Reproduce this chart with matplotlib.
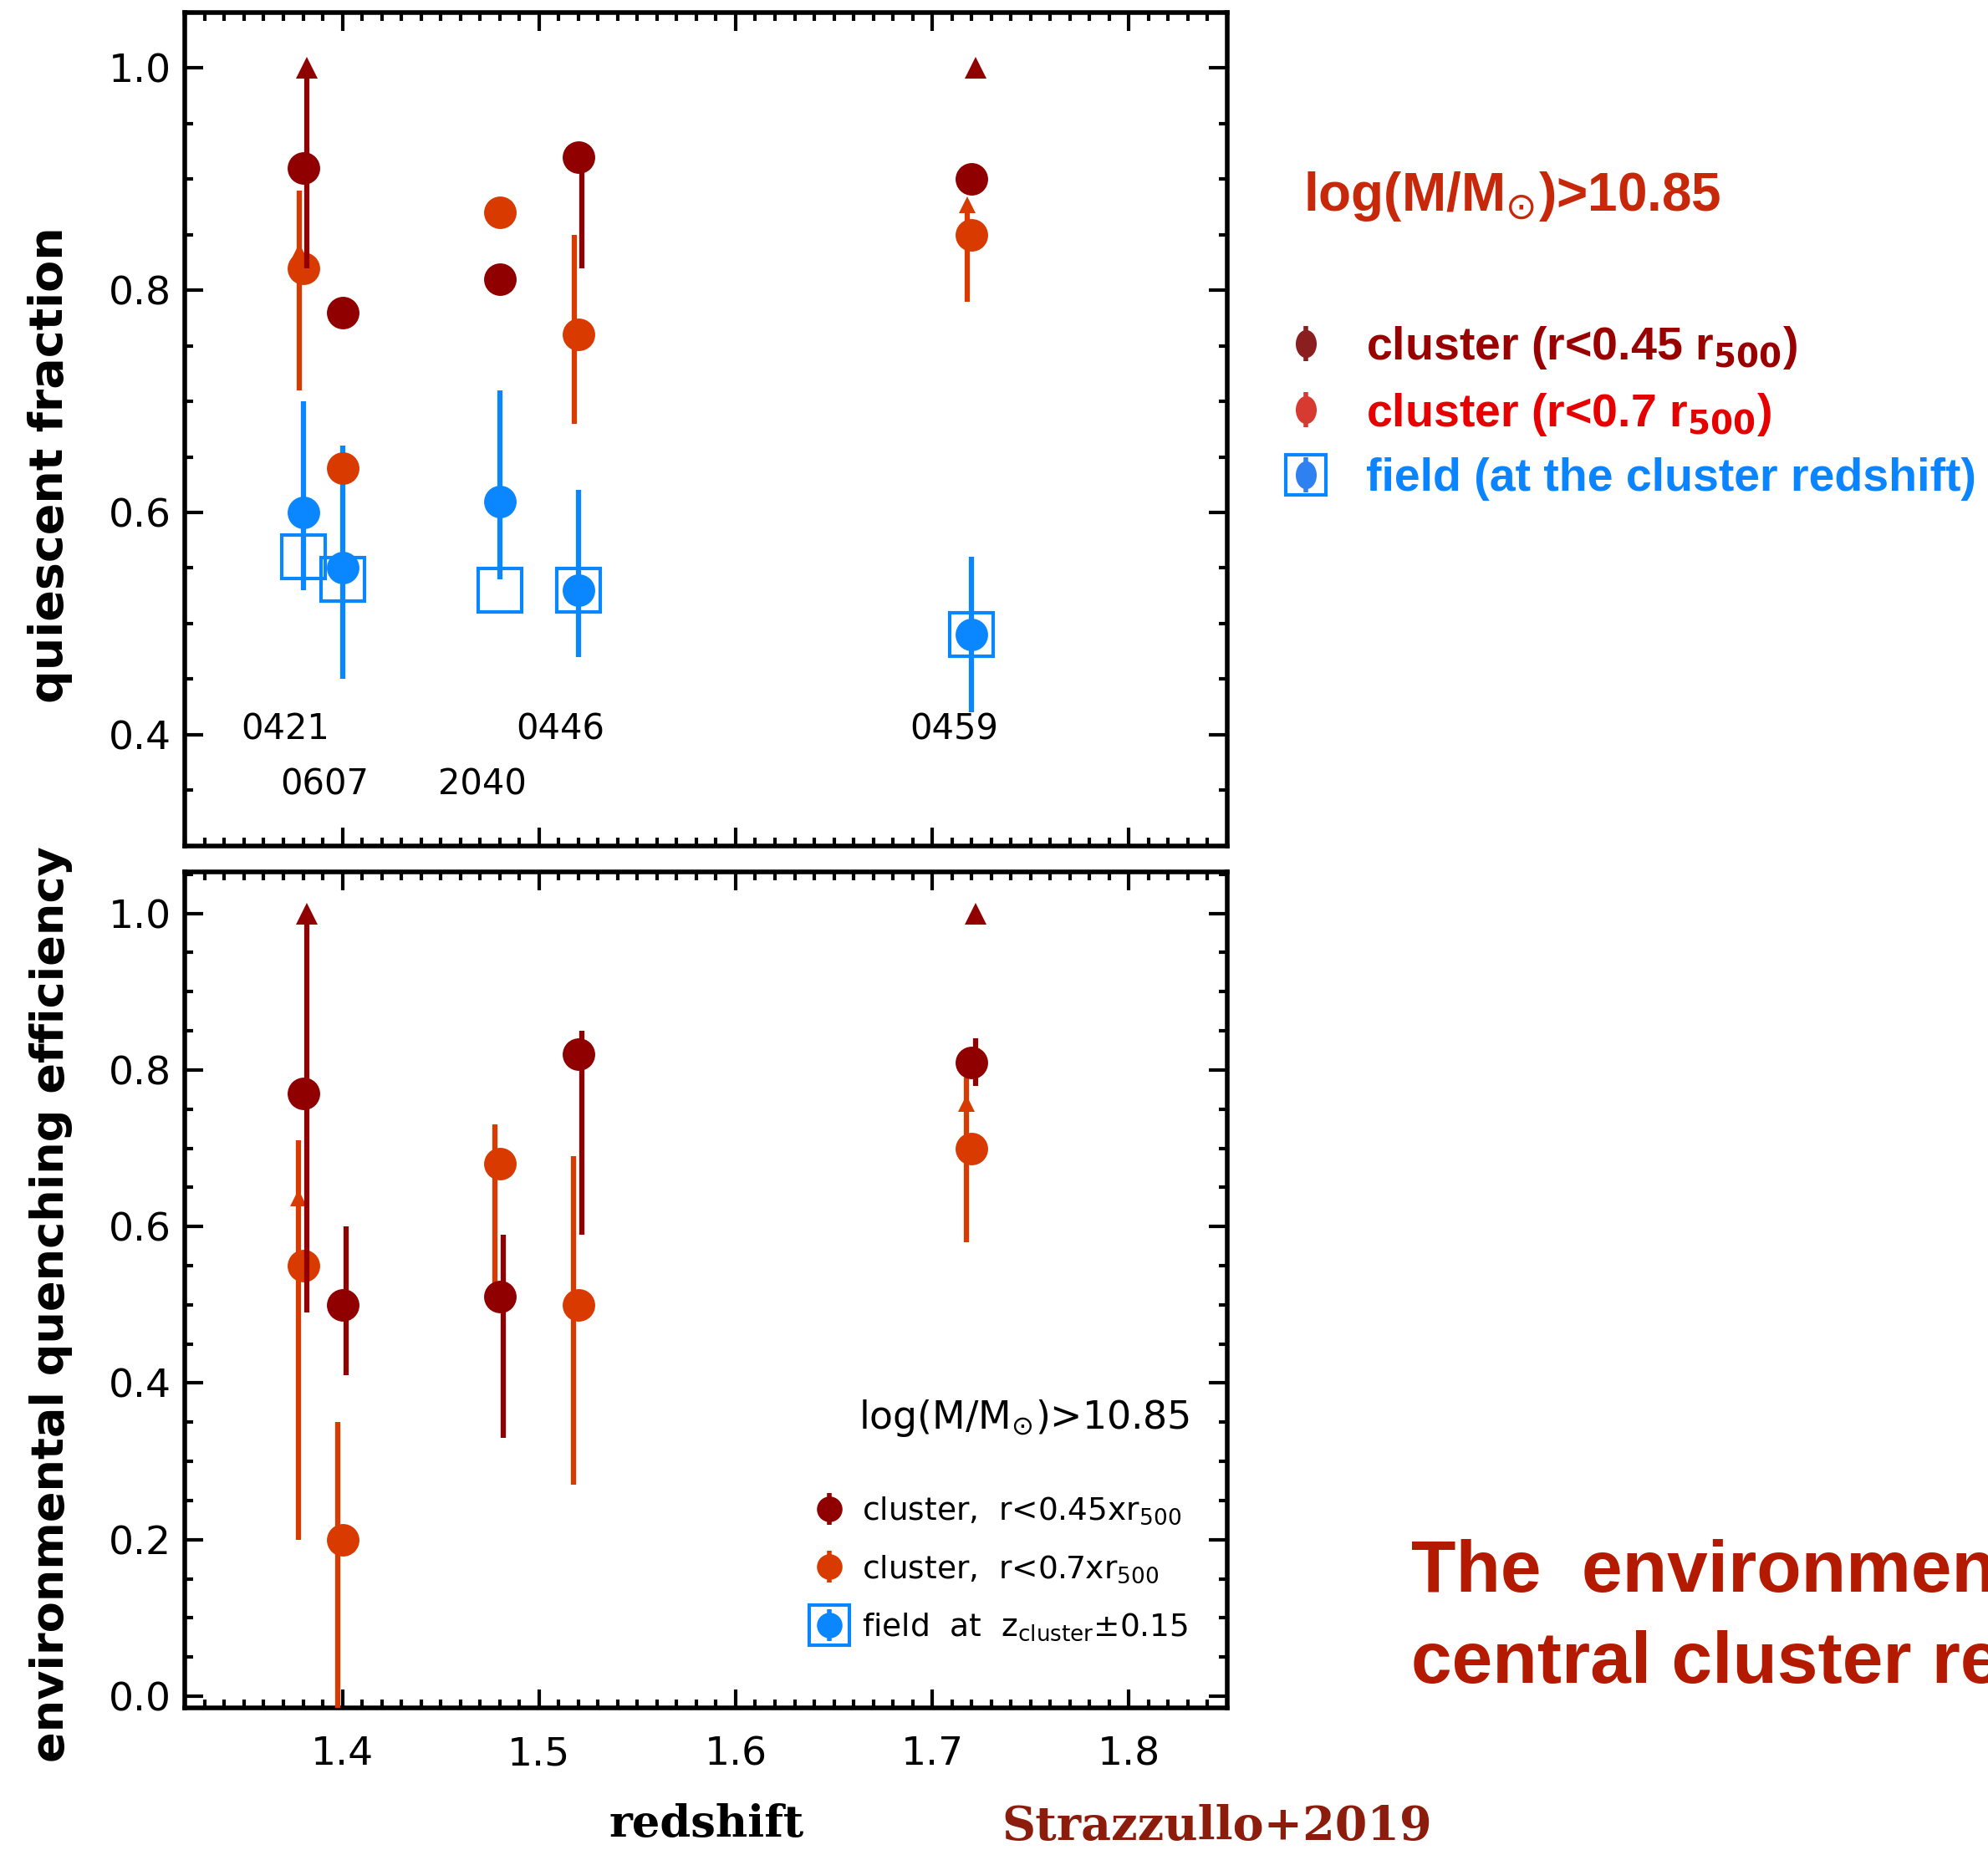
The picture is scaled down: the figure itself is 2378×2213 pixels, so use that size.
import numpy as np
import matplotlib.pyplot as plt
from matplotlib.ticker import MultipleLocator
from matplotlib.lines import Line2D
from matplotlib.markers import MarkerStyle
from matplotlib.transforms import Affine2D

# cluster redshifts and ids
z_cl = [1.38, 1.40, 1.48, 1.52, 1.72]
cl_names = ['0421', '0607', '2040', '0446', '0459']
name_row_y = [0.405, 0.355, 0.355, 0.405, 0.405]

# quiescent fraction, cluster r<0.45 r500
fq45 = [0.91, 0.78, 0.81, 0.92, 0.90]
fq45_lo = [0.82, np.nan, np.nan, 0.82, np.nan]
fq45_hi = [1.0, np.nan, np.nan, 0.92, np.nan]
fq45_lim = [1.0, np.nan, np.nan, np.nan, 1.0]

# quiescent fraction, cluster r<0.7 r500
fq07 = [0.82, 0.64, 0.87, 0.76, 0.85]
fq07_lo = [0.71, np.nan, np.nan, 0.68, 0.79]
fq07_hi = [0.89, np.nan, np.nan, 0.85, 0.87]
fq07_lim = [0.835, np.nan, np.nan, np.nan, 0.877]

# quiescent fraction, field at cluster redshift
fqf = [0.60, 0.55, 0.61, 0.53, 0.49]
fqf_lo = [0.53, 0.45, 0.54, 0.47, 0.42]
fqf_hi = [0.70, 0.66, 0.71, 0.62, 0.56]
fqf_sq = [0.56, 0.54, 0.53, 0.53, 0.49]

# environmental quenching efficiency
eq45 = [0.77, 0.50, 0.51, 0.82, 0.81]
eq45_lo = [0.49, 0.41, 0.33, 0.59, 0.78]
eq45_hi = [1.0, 0.60, 0.59, 0.85, 0.84]
eq45_lim = [1.0, np.nan, np.nan, np.nan, 1.0]

eq07 = [0.55, 0.20, 0.68, 0.50, 0.70]
eq07_lo = [0.20, -0.02, 0.52, 0.27, 0.58]
eq07_hi = [0.71, 0.35, 0.73, 0.69, 0.79]
eq07_lim = [0.637, np.nan, np.nan, np.nan, 0.757]

DRED = '#900000'
ORNG = '#d93a00'
BLUE = '#0a87ff'
NARROW = ['Liberation Sans', 'DejaVu Sans']

plt.rcParams['font.family'] = 'DejaVu Sans'


def draw_set(ax, y, lo, hi, lim, color, dx, tri, z):
    x = np.array(z_cl)
    lo = np.array(lo, float)
    hi = np.array(hi, float)
    lim = np.array(lim, float)
    ok = ~np.isnan(lo)
    ax.vlines(x[ok] + dx, lo[ok], hi[ok], color=color, lw=4.5, zorder=z)
    ax.plot(x, y, 'o', ms=28, color=color, mew=0, zorder=z)
    okl = ~np.isnan(lim)
    ax.plot(x[okl] + dx, lim[okl], '^', ms=tri, color=color, mew=0, zorder=z)


def style_axes(ax, ylim):
    ax.set_xlim(1.32, 1.85)
    ax.set_ylim(*ylim)
    ax.xaxis.set_major_locator(MultipleLocator(0.1))
    ax.xaxis.set_minor_locator(MultipleLocator(0.01))
    ax.yaxis.set_major_locator(MultipleLocator(0.2))
    ax.yaxis.set_minor_locator(MultipleLocator(0.05))
    ax.tick_params(which='both', direction='in', top=True, right=True, width=3)
    ax.tick_params(which='major', length=16, labelsize=34)
    ax.tick_params(which='minor', length=7)
    ax.tick_params(axis='y', pad=12)
    ax.tick_params(axis='x', pad=24)
    for s in ax.spines.values():
        s.set_linewidth(4)


fig = plt.figure(figsize=(23.78, 22.13), dpi=100)
ax1 = fig.add_axes([0.0931, 0.5429, 0.5242, 0.4503])
ax2 = fig.add_axes([0.0931, 0.0768, 0.5242, 0.4519])

# top panel: quiescent fraction
ax1.plot(z_cl, fqf_sq, 's', ms=37, mfc='none', mec=BLUE, mew=3, zorder=2)
draw_set(ax1, fqf, fqf_lo, fqf_hi, [np.nan] * 5, BLUE, 0.0, 0, 3)
draw_set(ax1, fq07, fq07_lo, fq07_hi, fq07_lim, ORNG, -0.002, 14, 4)
draw_set(ax1, fq45, fq45_lo, fq45_hi, fq45_lim, DRED, 0.002, 19, 5)
for zc, nm, yy in zip(z_cl, cl_names, name_row_y):
    ax1.text(zc - 0.009, yy, nm, ha='center', va='center', fontsize=30)
style_axes(ax1, (0.3, 1.05))
ax1.tick_params(axis='x', labelbottom=False)
ax1.set_ylabel('quiescent fraction', fontsize=40, fontweight='bold')
ax1.yaxis.set_label_coords(-0.108, 0.457)

# bottom panel: environmental quenching efficiency
draw_set(ax2, eq07, eq07_lo, eq07_hi, eq07_lim, ORNG, -0.0025, 15, 4)
draw_set(ax2, eq45, eq45_lo, eq45_hi, eq45_lim, DRED, 0.002, 19, 5)
style_axes(ax2, (-0.015, 1.053))
ax2.set_ylabel('environmental quenching efficiency', fontsize=39, fontweight='bold')
ax2.yaxis.set_label_coords(-0.108, 0.483)
ax2.set_xlabel('redshift', fontsize=38, fontweight='bold', family='DejaVu Serif')
ax2.xaxis.set_label_coords(0.5, -0.114)

ax2.text(0.9635, 0.347, 'log(M/M$_{\\odot}$)>10.85', transform=ax2.transAxes,
         ha='right', va='center', fontsize=33)


def handle(color, shape='o', square=False, ms=24, bar=30, sq=34):
    parts = []
    if square:
        parts.append(Line2D([], [], ls='none', marker='s', ms=sq, mfc='none', mec=BLUE, mew=3))
    parts.append(Line2D([], [], ls='none', marker='|', ms=bar, mew=4, color=color))
    parts.append(Line2D([], [], ls='none', marker=shape, ms=ms, color=color, mew=0))
    return tuple(parts)


leg_h = [handle(DRED, ms=22, bar=27), handle(ORNG, ms=22, bar=27),
         handle(BLUE, square=True, ms=22, bar=27)]
leg_l = ['cluster,  r<0.45xr$_{500}$', 'cluster,  r<0.7xr$_{500}$',
         'field  at  z$_{\\rm cluster}$\u00b10.15']
ax2.legend(leg_h, leg_l, loc='lower left', bbox_to_anchor=(0.6, 0.078),
           frameon=False, fontsize=27, handlelength=1.2, handletextpad=0.45,
           labelspacing=0.85, borderpad=0, borderaxespad=0)

# right-side annotations
fig.text(1028 / 1568, 1 - 155 / 1459, 'log(M/M$_{\\odot}$)>10.85', color='#c8280a',
         fontsize=46, fontweight='bold', family=NARROW, va='center')

ell = MarkerStyle('o', transform=Affine2D().scale(0.75, 1.0))
rh = [handle('#8b1e1e', ell), handle('#d63a30', ell), handle('#2f80f0', ell, square=True)]
rl = ['cluster (r<0.45 r$_{\\mathbf{500}}$)', 'cluster (r<0.7 r$_{\\mathbf{500}}$)',
      'field (at the cluster redshift)']
fig.legend(rh, rl, loc='upper left', bbox_to_anchor=(1008 / 1568, 1 - 256 / 1459),
           frameon=False, prop={'family': NARROW, 'weight': 'bold', 'size': 40},
           labelcolor=['#990000', '#e60000', '#0a84ff'], handlelength=1.2,
           handletextpad=0.7, labelspacing=0.42, borderpad=0, borderaxespad=0)

fig.text(1113 / 1568, 1 - 1255 / 1459, 'The  environmental quenching efficiency',
         color='#b41a00', fontsize=63, fontweight='bold', family=NARROW, va='baseline')
fig.text(1113 / 1568, 1 - 1327 / 1459, 'central cluster regions',
         color='#b41a00', fontsize=63, fontweight='bold', family=NARROW, va='baseline')

fig.text(790 / 1568, 1 - 1451 / 1459, 'Strazzullo+2019', color='#8c1c0c',
         fontsize=40, fontweight='bold', family='DejaVu Serif', va='baseline')

fig.savefig('out.png', dpi=100)
